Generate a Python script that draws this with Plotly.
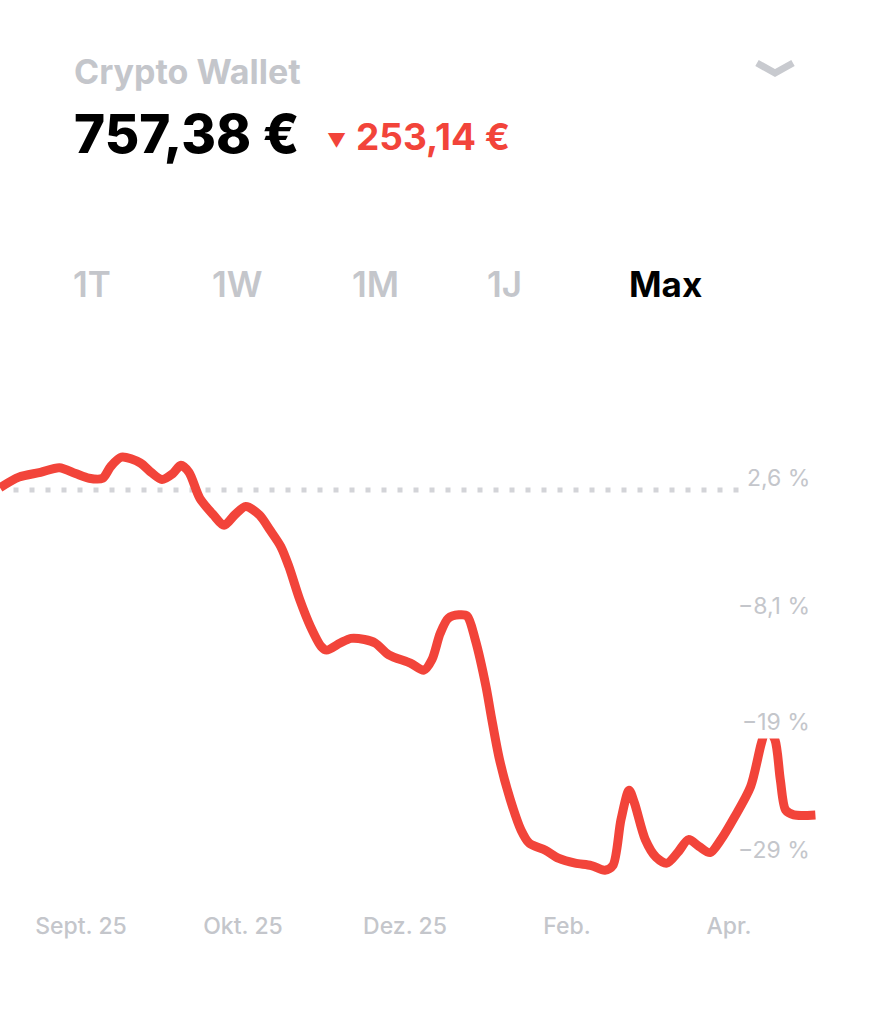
import plotly.graph_objects as go

# ---------------- data ----------------
days = [0, 7, 15, 22, 28, 33, 38, 41, 45, 52, 56, 60, 64, 67, 70, 74, 79, 83, 87, 91,
        96, 100, 104, 107, 111, 115, 119, 121, 126, 130, 135, 139, 144, 152, 157, 160,
        163, 166, 170, 173, 176, 180, 182, 185, 189, 193, 196, 202, 207, 213, 219, 224,
        227, 230, 233, 235, 239, 243, 247, 251, 255, 259, 263, 267, 272, 278, 282, 284,
        287, 289, 291, 294, 302]
perf = [2.8, 3.7, 4.1, 4.5, 4.0, 3.6, 3.6, 4.6, 5.4, 4.9, 4.1, 3.5, 4.0, 4.7, 4.1,
        1.9, 0.5, -0.4, 0.5, 1.2, 0.5, -0.8, -2.2, -3.9, -6.7, -9.0, -10.7, -11.0,
        -10.4, -10.0, -10.1, -10.4, -11.4, -12.1, -12.7, -11.8, -9.6, -8.3, -8.0, -8.1,
        -10.1, -14.1, -16.7, -20.3, -23.7, -26.3, -27.4, -28.0, -28.7, -29.1, -29.3,
        -29.7, -29.3, -25.4, -22.9, -24.0, -27.1, -28.6, -29.1, -28.2, -27.1, -27.7,
        -28.2, -27.1, -25.2, -22.6, -18.9, -17.6, -18.6, -22.0, -24.6, -25.0, -25.0]
baseline = 2.6
x_tick_vals = [30, 90, 150, 210, 270]
x_tick_text = ["Sept. 25", "Okt. 25", "Dez. 25", "Feb.", "Apr."]
y_label_vals = [2.6, -8.1, -19, -29]
y_label_text = ["2,6 %", "−8,1 %", "−19 %", "−29 %"]
title = "Crypto Wallet"
value_text = "757,38 €"
change_marker = "▼"
change_text = "253,14 €"
tabs = ["1T", "1W", "1M", "1J", "Max"]
active_tab = "Max"

# ---------------- style ----------------
W, H = 885, 1024
RED = "#F2443A"
GRAY = "#C4C6CB"
FONT = "Inter, Roboto, Liberation Sans, sans-serif"


def px(x):
    return x / W


def py(y):
    return 1 - y / H


fig = go.Figure()
fig.add_trace(go.Scatter(
    x=days, y=perf, mode="lines",
    line=dict(color=RED, width=9, shape="spline", smoothing=0.8),
    hoverinfo="skip", showlegend=False,
))

# dotted baseline
fig.add_shape(type="line", xref="x", yref="y", x0=5, x1=298, y0=baseline, y1=baseline,
              line=dict(color="#D3D4D8", width=5, dash="5px,11px"), layer="below")

annotations = []
# y labels
label_shift = [12, 10, 22, 12]
for v, t, s in zip(y_label_vals, y_label_text, label_shift):
    annotations.append(dict(x=px(813), xref="paper", y=v, yref="y", text=t,
                            xanchor="right", yanchor="middle", yshift=s,
                            showarrow=False, bgcolor="white", borderpad=2,
                            font=dict(family=FONT, size=23, color=GRAY)))
# header
annotations.append(dict(x=px(72), y=py(71), xref="paper", yref="paper", text=title,
                        xanchor="left", yanchor="middle", showarrow=False,
                        font=dict(family=FONT, size=34, color=GRAY, weight=700)))
annotations.append(dict(x=px(72), y=py(134), xref="paper", yref="paper", text=value_text,
                        xanchor="left", yanchor="middle", showarrow=False,
                        font=dict(family=FONT, size=53, color="#000000", weight=800)))
annotations.append(dict(x=px(325), y=py(140), xref="paper", yref="paper", text=change_marker,
                        xanchor="left", yanchor="middle", showarrow=False,
                        font=dict(family=FONT, size=19, color=RED)))
annotations.append(dict(x=px(354), y=py(136), xref="paper", yref="paper", text=change_text,
                        xanchor="left", yanchor="middle", showarrow=False,
                        font=dict(family=FONT, size=37, color=RED, weight=700)))
# tabs
tab_x = [92, 237, 375, 505, 665]
for t, x in zip(tabs, tab_x):
    active = t == active_tab
    annotations.append(dict(x=px(x), y=py(284), xref="paper", yref="paper", text=t,
                            xanchor="center", yanchor="middle", showarrow=False,
                            font=dict(family=FONT, size=35,
                                      color="#000000" if active else GRAY,
                                      weight=700 if active else 600)))

# chevron
fig.add_shape(type="path", xref="paper", yref="paper",
              path=f"M {px(757)} {py(63)} L {px(775)} {py(73)} L {px(793)} {py(63)}",
              line=dict(color="#C8CACF", width=7))

fig.update_layout(
    width=W, height=H,
    margin=dict(l=0, r=0, t=0, b=0),
    paper_bgcolor="white", plot_bgcolor="white",
    annotations=annotations,
    xaxis=dict(domain=[0, 1], range=[0, W / 2.7], showgrid=False, zeroline=False,
               showline=False, tickvals=x_tick_vals, ticktext=x_tick_text,
               ticks="", ticklabelstandoff=10, fixedrange=True,
               tickfont=dict(family=FONT, size=23, color=GRAY, weight=500)),
    yaxis=dict(domain=[py(900), py(400)], range=[-32.23, 10.25], showgrid=False,
               zeroline=False, showline=False, showticklabels=False, fixedrange=True),
)

fig.write_html("out.html", config={"displayModeBar": False},
               post_script="document.body.style.margin='0';")
